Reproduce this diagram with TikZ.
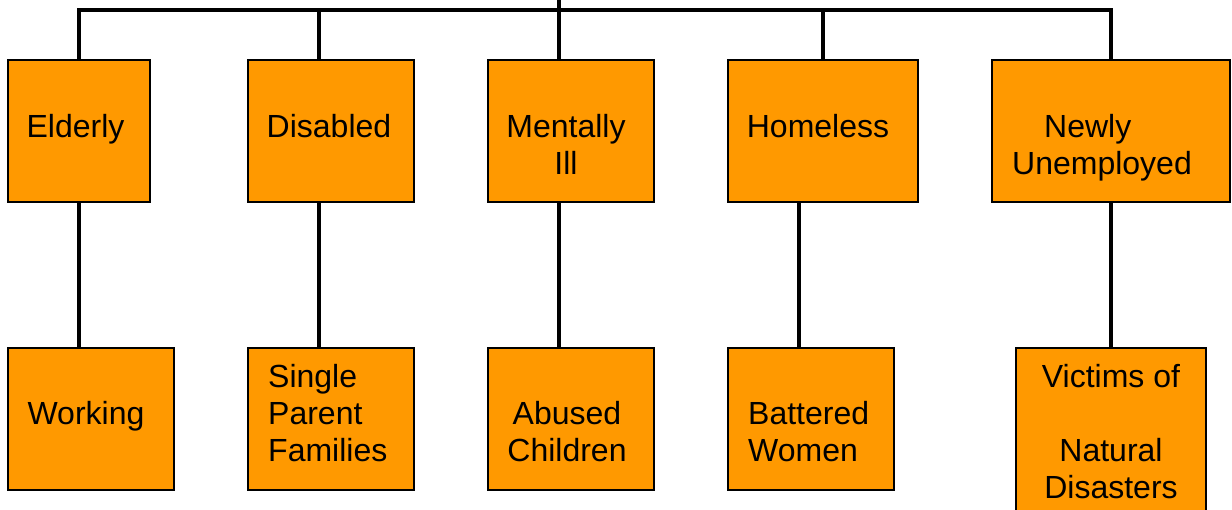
\documentclass[tikz,border=0pt]{standalone}
\usepackage{fontspec}
\setmainfont{Liberation Sans}
\definecolor{boxorange}{HTML}{FF9900}
\newcommand{\ml}[2][c]{\begin{tabular}[t]{@{}#1@{}}#2\end{tabular}}
\begin{document}
\begin{tikzpicture}[x=1pt,y=-1pt,
  box/.style={draw=black, fill=boxorange, line width=2pt, rectangle, inner sep=0pt, minimum height=142pt},
  txt/.style={inner sep=0pt, font=\fontsize{32}{37}\selectfont},
  conn/.style={draw=black, line width=4pt, line join=miter}]
\useasboundingbox (0,0) rectangle (1232,510);
\clip (0,0) rectangle (1232,510);
% top row
\node[box, minimum width=142pt] (E) at (79,131) {};
\node[box, minimum width=166pt] (D) at (331,131) {};
\node[box, minimum width=166pt] (M) at (571,131) {};
\node[box, minimum width=190pt] (H) at (823,131) {};
\node[box, minimum width=238pt] (N) at (1111,131) {};
% bottom row
\node[box, minimum width=166pt] (W) at (91,419) {};
\node[box, minimum width=166pt] (S) at (331,419) {};
\node[box, minimum width=166pt] (A) at (571,419) {};
\node[box, minimum width=166pt] (B) at (811,419) {};
\node[box, minimum width=190pt, minimum height=190pt] (V) at (1111,443) {};
% texts
\node[txt, anchor=base] (tE) at (75.5,138) {\ml{Elderly}};
\node[txt, anchor=base] (tD) at (329,138) {\ml{Disabled}};
\node[txt, anchor=base] (tM) at (566,138) {\ml{Mentally\\Ill}};
\node[txt, anchor=base] (tH) at (818,138) {\ml{Homeless}};
\node[txt, anchor=base west] (tN) at (1012,138) {\ml[l]{\hspace*{32pt}Newly\\Unemployed}};
\node[txt, anchor=base] (tW) at (86,425) {\ml{Working}};
\node[txt, anchor=base west] (tS) at (268,388) {\ml[l]{Single\\Parent\\Families}};
\node[txt, anchor=base] (tA) at (567,425) {\ml{Abused\\Children}};
\node[txt, anchor=base west] (tB) at (748,425) {\ml[l]{Battered\\Women}};
\node[txt, anchor=base] (tV) at (1111,388) {\ml{Victims of\\ \\Natural\\Disasters}};
% connector coordinates
\coordinate (top) at (559,0);
\coordinate (bus) at (0,10);
\coordinate (xE) at (79,0);
\coordinate (xD) at (319,0);
\coordinate (xM) at (559,0);
\coordinate (xH) at (823,0);
\coordinate (xHB) at (799,0);
\coordinate (xN) at (1111,0);
% bus
\draw[conn] (xE |- E.north) -- (xE |- bus) -- (xN |- bus) -- (xN |- N.north);
\draw[conn] (top) -- (xM |- M.north);
\draw[conn] (xD |- bus) -- (xD |- D.north);
\draw[conn] (xH |- bus) -- (xH |- H.north);
% vertical links
\draw[conn] (xE |- E.south) -- (xE |- W.north);
\draw[conn] (xD |- D.south) -- (xD |- S.north);
\draw[conn] (xM |- M.south) -- (xM |- A.north);
\draw[conn] (xHB |- H.south) -- (xHB |- B.north);
\draw[conn] (xN |- N.south) -- (xN |- V.north);
\end{tikzpicture}
\end{document}
